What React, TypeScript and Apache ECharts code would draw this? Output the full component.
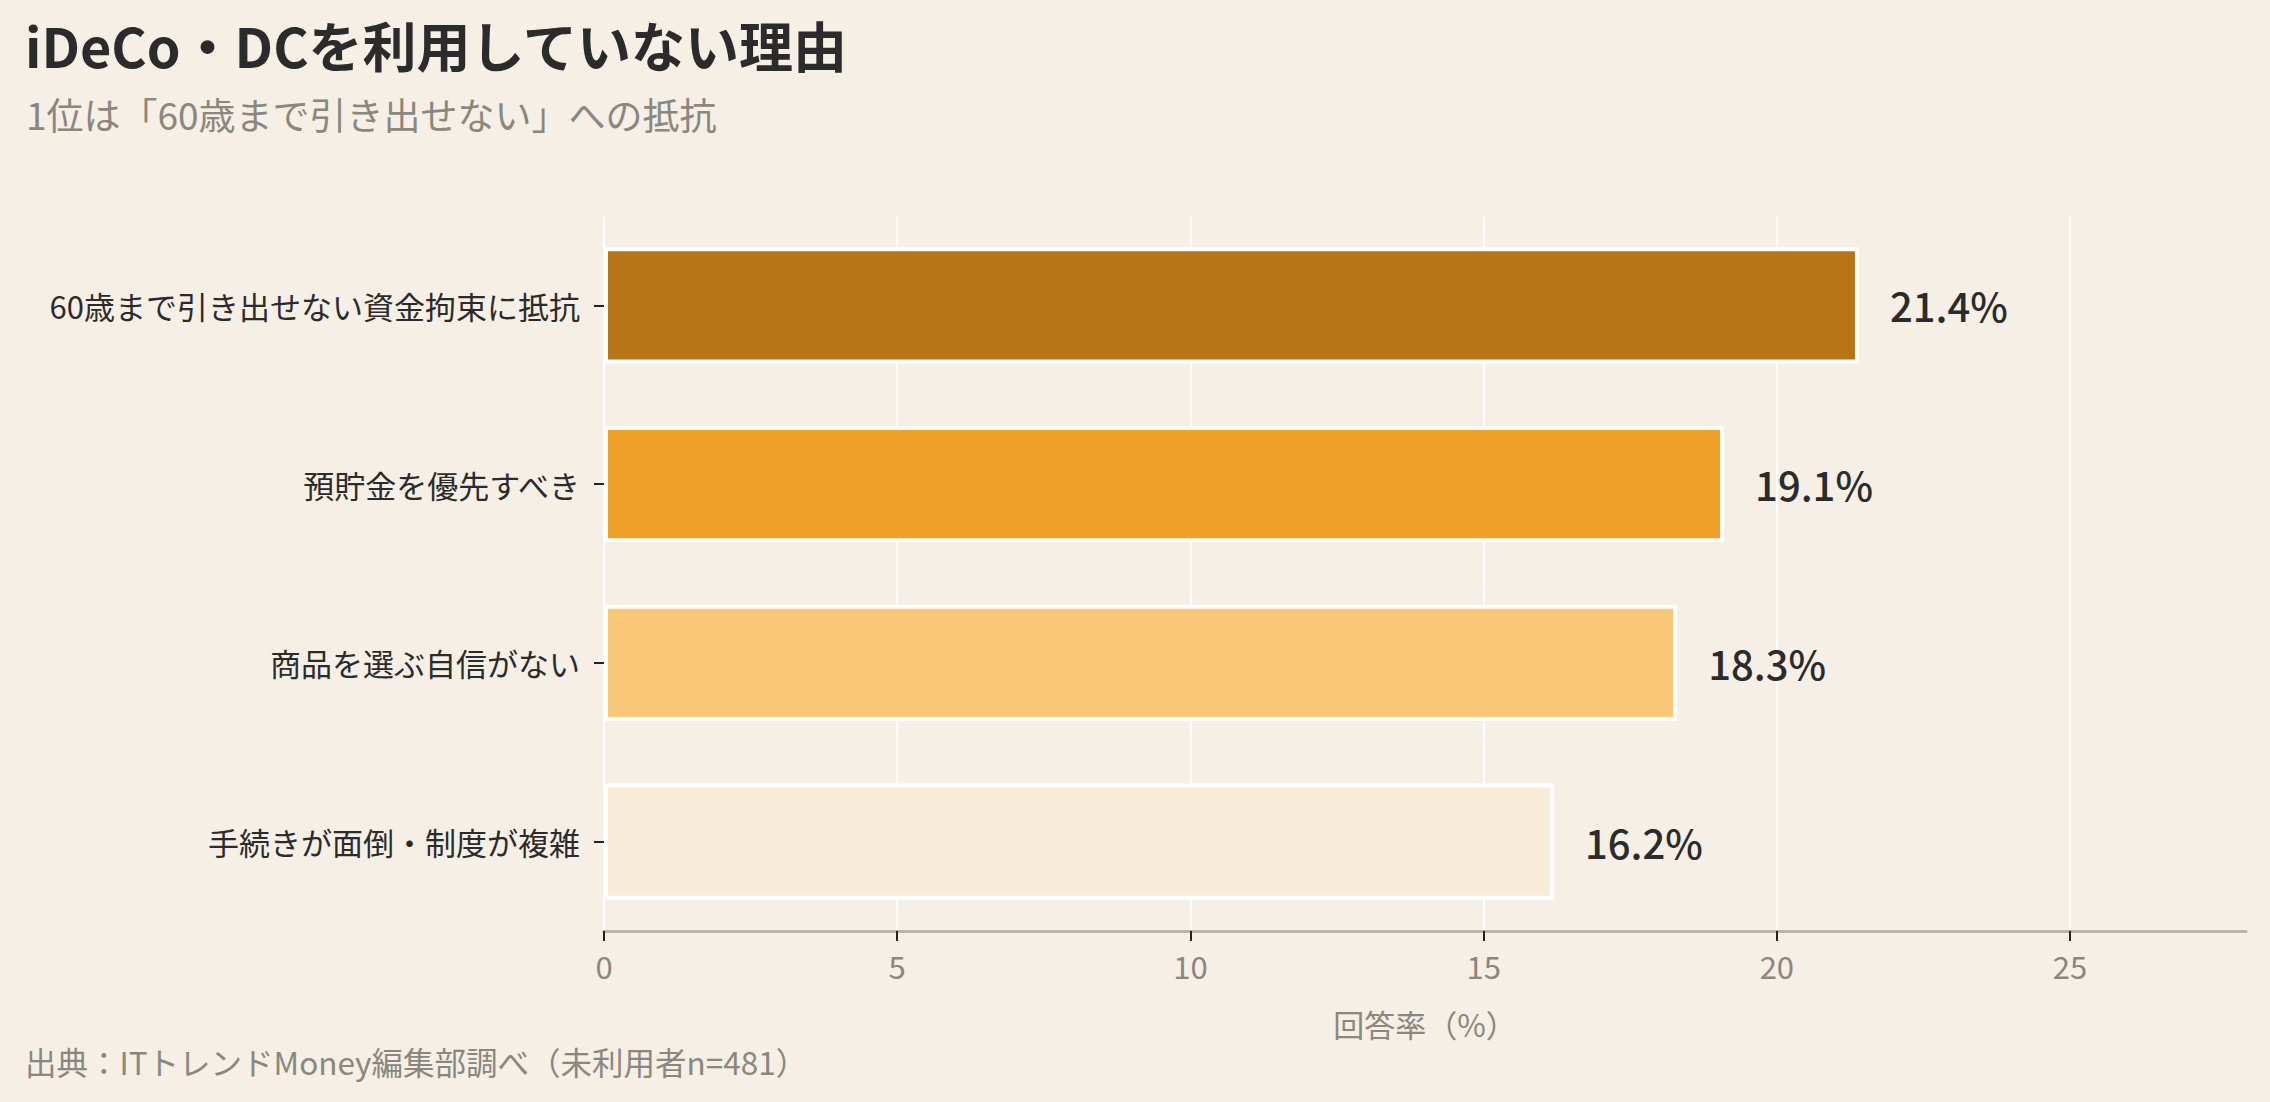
import React, { useEffect, useRef } from "react";
import * as echarts from "echarts";

const categories = [
  "60歳まで引き出せない資金拘束に抵抗",
  "預貯金を優先すべき",
  "商品を選ぶ自信がない",
  "手続きが面倒・制度が複雑",
];
const values = [21.4, 19.1, 18.3, 16.2];
const barColors = ["#B87518", "#EFA029", "#F9C778", "#F8EBD8"];
const xTicks = [0, 5, 10, 15, 20, 25];
const titleText = "iDeCo・DCを利用していない理由";
const subtitleText = "1位は「60歳まで引き出せない」への抵抗";
const footerText = "出典：ITトレンドMoney編集部調べ（未利用者n=481）";
const xAxisName = "回答率（%）";

const FONT = '"Noto Sans CJK JP", "Noto Sans", sans-serif';
const BG = "#F5EFE5";
const DARK = "#2B2B2B";
const GRAY = "#8A877F";

export default function App() {
  const ref = useRef<HTMLDivElement>(null);
  useEffect(() => {
    if (!ref.current) return;
    const chart = echarts.init(ref.current, null, { renderer: "svg" });
    chart.setOption({
      animation: false,
      backgroundColor: BG,
      textStyle: { fontFamily: FONT },
      grid: { left: 604, right: 24, top: 216, bottom: 171, containLabel: false },
      xAxis: {
        type: "value",
        min: 0,
        max: 28,
        interval: 5,
        name: xAxisName,
        nameLocation: "middle",
        nameGap: 77,
        nameTextStyle: { fontSize: 31, color: GRAY, fontFamily: FONT },
        axisLine: { show: true, lineStyle: { color: "#B8B5AC", width: 3 } },
        axisTick: { show: true, length: 10, lineStyle: { color: "#222", width: 2 }, customValues: xTicks },
        axisLabel: { fontSize: 31, color: GRAY, margin: 19, fontFamily: FONT, customValues: xTicks },
        splitLine: { show: true, lineStyle: { color: "#FFFFFF", width: 2 } },
      },
      yAxis: {
        type: "category",
        inverse: true,
        data: categories,
        axisLine: { show: false },
        axisTick: { show: true, alignWithLabel: true, length: 10, lineStyle: { color: "#222", width: 2 } },
        axisLabel: { fontSize: 31, color: DARK, margin: 24, fontFamily: FONT },
        splitLine: { show: false },
      },
      series: [
        {
          type: "bar",
          barWidth: "65%",
          data: values.map((v, i) => ({
            value: v,
            itemStyle: { color: barColors[i], borderColor: "#FFFFFF", borderWidth: 4 },
          })),
          label: {
            show: true,
            position: "right",
            distance: 31,
            formatter: (p: any) => `${p.value.toFixed(1)}%`,
            fontSize: 40,
            fontWeight: 500,
            color: DARK,
            fontFamily: FONT,
          },
        },
      ],
      graphic: [
        {
          type: "text",
          left: 25,
          top: 17,
          style: { text: titleText, font: `bold 54px ${FONT}`, fill: DARK },
        },
        {
          type: "text",
          left: 26,
          top: 95,
          style: { text: subtitleText, font: `37px ${FONT}`, fill: GRAY },
        },
        {
          type: "text",
          left: 25,
          top: 1045,
          style: { text: footerText, font: `31.5px ${FONT}`, fill: GRAY },
        },
      ],
    });
    return () => chart.dispose();
  }, []);
  return (
    <div
      ref={ref}
      style={{ position: "fixed", left: 0, top: 0, width: 2270, height: 1102 }}
    />
  );
}
